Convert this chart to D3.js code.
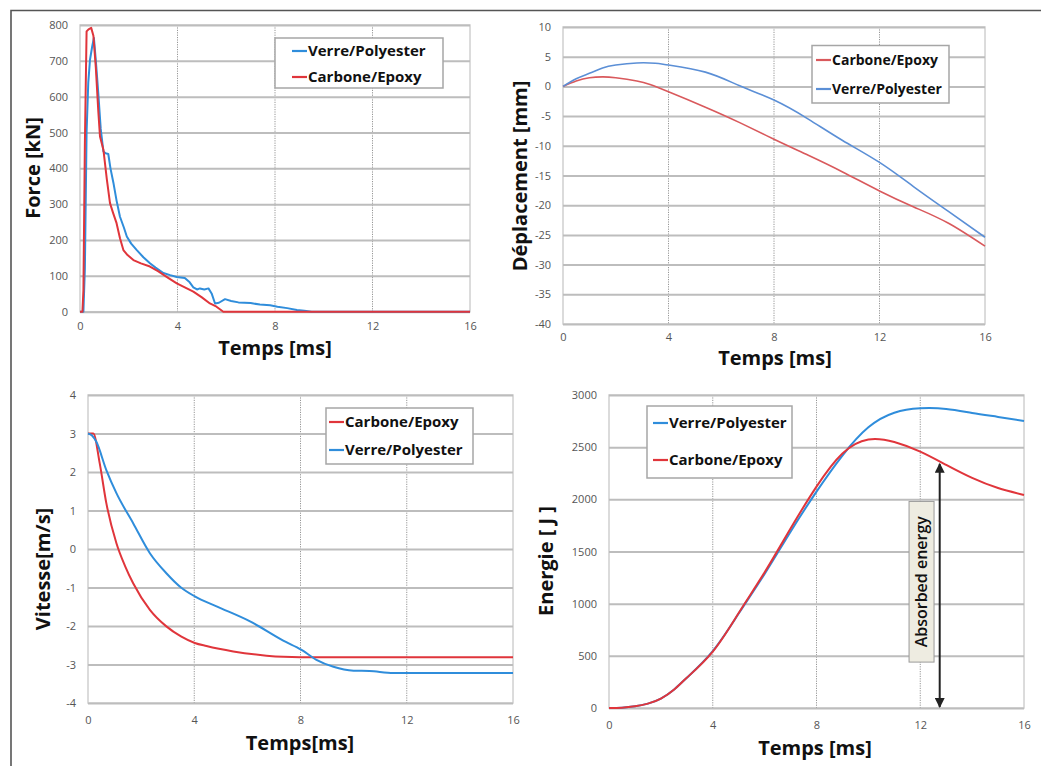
<!DOCTYPE html>
<html><head><meta charset="utf-8">
<script src="https://cdn.jsdelivr.net/npm/d3@7"></script>
<style>
body{margin:0;background:#fff;}
svg{display:block;font-family:"Open Sans",sans-serif;}
</style></head><body>
<svg id="c" width="1041" height="766"></svg>
<script>
// ---- data ----
const xTicks = [0, 4, 8, 12, 16];
const seriesNames = ["Verre/Polyester", "Carbone/Epoxy"];

const forceTicks = [0,100,200,300,400,500,600,700,800];
const forceVerre = [[0,0],[0.14,0],[0.2,120],[0.27,500],[0.34,640],[0.41,703],[0.5,740],[0.57,764],[0.65,700],[0.75,610],[0.85,510],[0.96,447],[1.05,442],[1.16,440],[1.25,400],[1.37,360],[1.5,310],[1.64,265],[1.8,235],[1.92,210],[2.1,190],[2.33,172],[2.6,152],[2.87,135],[3.1,123],[3.42,108],[3.7,102],[3.97,97],[4.3,94],[4.5,82],[4.65,68],[4.8,62],[4.92,65],[5.1,62],[5.27,65],[5.4,51],[5.54,23],[5.7,25],[5.95,35],[6.2,30],[6.5,26],[7.0,24],[7.38,20],[7.8,18],[8.1,14],[8.5,10],[8.9,5],[9.2,3],[9.5,0],[16,0]];
const forceCarbone = [[0,0],[0.1,0],[0.14,60],[0.2,470],[0.27,782],[0.35,788],[0.46,792],[0.55,770],[0.65,680],[0.75,560],[0.82,489],[0.96,452],[1.1,370],[1.23,303],[1.36,275],[1.5,247],[1.64,205],[1.78,172],[1.95,158],[2.19,144],[2.5,135],[2.87,126],[3.2,113],[3.6,95],[3.97,79],[4.3,68],[4.65,56],[5.0,40],[5.33,23],[5.6,14],[5.88,0],[16,0]];

const deplTicks = [-40,-35,-30,-25,-20,-15,-10,-5,0,5,10];
const deplCarbone = [[0,0],[0.5,0.9],[1.0,1.45],[1.5,1.6],[2.0,1.45],[2.8,0.9],[3.3,0.3],[4.0,-0.9],[5.4,-3.5],[6.7,-6.1],[8.0,-8.9],[9.3,-11.6],[10.6,-14.4],[12.0,-17.6],[13.3,-20.3],[14.6,-23.0],[16.0,-26.9]];
const deplVerre = [[0,0],[0.5,1.3],[1.0,2.2],[1.5,3.1],[2.0,3.6],[2.8,3.95],[3.5,3.9],[4.0,3.6],[5.4,2.4],[6.7,0.1],[8.0,-2.3],[9.3,-5.5],[10.6,-9.1],[12.0,-12.8],[13.3,-16.9],[14.6,-21.0],[16.0,-25.4]];

const vitTicks = [-4,-3,-2,-1,0,1,2,3,4];
const vitCarbone = [[0,3.0],[0.2,3.0],[0.44,2.23],[0.69,1.19],[1.07,0.15],[1.4,-0.45],[1.7,-0.89],[2.33,-1.58],[2.95,-2.01],[3.5,-2.27],[4.02,-2.44],[4.46,-2.52],[5.47,-2.66],[6.72,-2.77],[7.35,-2.8],[8.0,-2.81],[16,-2.81]];
const vitVerre = [[0,3.0],[0.15,2.95],[0.31,2.79],[0.69,2.05],[1.07,1.45],[1.7,0.67],[2.33,-0.11],[2.95,-0.63],[3.5,-1.0],[4.02,-1.23],[4.84,-1.49],[6.1,-1.88],[7.35,-2.38],[8.04,-2.62],[8.6,-2.88],[9.24,-3.06],[10.0,-3.16],[10.6,-3.17],[11.5,-3.22],[16,-3.22]];

const enerTicks = [0,500,1000,1500,2000,2500,3000];
const enerVerre = [[0,0],[0.5,3],[1,16],[1.5,42],[2,90],[2.5,175],[3,290],[4,545],[5,905],[6,1285],[7,1690],[8,2074],[9,2420],[10,2690],[11,2830],[12,2872],[13,2866],[14,2828],[15,2790],[16,2751]];
const enerCarbone = [[0,0],[0.5,3],[1,16],[1.5,42],[2,90],[2.5,175],[3,290],[4,540],[5,910],[6,1300],[7,1720],[8,2122],[9,2440],[10,2574],[11,2550],[12,2457],[13,2330],[14,2205],[15,2108],[16,2042]];

const annotationText = "Absorbed energy";

// ---- drawing ----
const svg = d3.select("#c");
const BLUE = "#2f8ddb", RED = "#e0353b";

svg.append("path").attr("d","M11,766 L11,10.5 L1041,10.5").attr("fill","none").attr("stroke","#555").attr("stroke-width",1.6);

function panel(o){
  const x = d3.scaleLinear().domain([0,16]).range([o.l,o.r]);
  const y = d3.scaleLinear().domain([o.yTicks[0], o.yTicks[o.yTicks.length-1]]).range([o.b,o.t]);
  const g = svg.append("g");
  g.append("rect").attr("x",o.l).attr("y",o.t).attr("width",o.r-o.l).attr("height",o.b-o.t)
    .attr("fill","none").attr("stroke","#d0d0d0").attr("stroke-width",1.5);
  g.selectAll(".vg").data(xTicks.slice(1,-1)).join("line")
    .attr("x1",d=>x(d)).attr("x2",d=>x(d)).attr("y1",o.t).attr("y2",o.b)
    .attr("stroke","#8a8a8a").attr("stroke-width",0.9).attr("stroke-dasharray","1.2,1.2");
  const ya = d3.axisLeft(y).tickValues(o.yTicks).tickSize(-(o.r-o.l)).tickPadding(12).tickFormat(d=>String(d));
  const yg = g.append("g").attr("transform",`translate(${o.l},0)`).call(ya);
  yg.select(".domain").remove();
  yg.selectAll(".tick line").attr("stroke","#bdbdbd").attr("stroke-width",2);
  yg.selectAll(".tick text").attr("fill","#555").style("font-size","11px").style("font-family","'Open Sans',sans-serif");
  const xa = d3.axisBottom(x).tickValues(xTicks).tickSize(0).tickPadding(o.xpad||12).tickFormat(d=>String(d));
  const xg = g.append("g").attr("transform",`translate(0,${o.b})`).call(xa);
  xg.select(".domain").remove();
  xg.selectAll(".tick text").attr("fill","#555").style("font-size","11px").style("font-family","'Open Sans',sans-serif");
  g.append("text").attr("x",o.xt[0]).attr("y",o.xt[1]).attr("text-anchor","middle")
    .style("font-size","20px").style("font-weight","bold").attr("fill","#111").text(o.xTitle);
  g.append("text").attr("transform",`translate(${o.yt[0]},${o.yt[1]}) rotate(-90)`).attr("text-anchor","middle")
    .attr("dy","0.35em").style("font-size","20px").style("font-weight","bold").attr("fill","#111").text(o.yTitle);
  const line = d3.line().x(d=>x(d[0])).y(d=>y(d[1])).curve(o.curve||d3.curveMonotoneX);
  o.series.forEach(s=>{
    g.append("path").datum(s.data).attr("d",line).attr("fill","none")
      .attr("stroke",s.color).attr("stroke-width",o.lw||2).attr("stroke-linejoin","round");
  });
  const L = o.legend;
  g.append("rect").attr("x",L.x).attr("y",L.y).attr("width",L.w).attr("height",L.h)
    .attr("fill","#fff").attr("stroke","#a6a6a6").attr("stroke-width",1.5);
  L.items.forEach((it,i)=>{
    const yy = L.rows[i];
    g.append("line").attr("x1",L.lx).attr("x2",L.lx+15).attr("y1",yy).attr("y2",yy)
      .attr("stroke",it.color).attr("stroke-width",2.2);
    g.append("text").attr("x",L.lx+16).attr("y",yy).attr("dy","0.35em")
      .style("font-size",(L.fs||15)+"px").style("font-weight","bold").attr("fill","#111").text(it.name);
  });
  return {x,y,g};
}

// Panel 1: Force
panel({l:80,r:470,t:25,b:311.7,yTicks:forceTicks,xTitle:"Temps [ms]",yTitle:"Force [kN]",
  xt:[275,355],yt:[33,168],curve:d3.curveLinear,lw:2,xpad:11,
  series:[{data:forceVerre,color:BLUE},{data:forceCarbone,color:RED}],
  legend:{x:275,y:38,w:168,h:50,lx:292,rows:[51,77],items:[{name:seriesNames[0],color:BLUE},{name:seriesNames[1],color:RED}]}});

// Panel 2: Déplacement
panel({l:563,r:985,t:27,b:324,yTicks:deplTicks,xTitle:"Temps [ms]",yTitle:"Déplacement [mm]",
  xt:[775,365],yt:[520,176],lw:1.6,xpad:9,curve:d3.curveNatural,
  series:[{data:deplCarbone,color:"#d9595c"},{data:deplVerre,color:"#5b8fd6"}],
  legend:{x:812,y:45.5,w:137,h:57.5,lx:816,rows:[60,89],fs:14,items:[{name:seriesNames[1],color:"#d9595c"},{name:seriesNames[0],color:"#5b8fd6"}]}});

// Panel 3: Vitesse
panel({l:88,r:513,t:395,b:703,yTicks:vitTicks,xTitle:"Temps[ms]",yTitle:"Vitesse[m/s]",
  xt:[300,750],yt:[43,569],lw:2,xpad:13,
  series:[{data:vitCarbone,color:RED},{data:vitVerre,color:BLUE}],
  legend:{x:326,y:408,w:147,h:56,lx:329,rows:[422,450],items:[{name:seriesNames[1],color:RED},{name:seriesNames[0],color:BLUE}]}});

// Panel 4: Energie
const p4 = panel({l:609,r:1024,t:395,b:708,yTicks:enerTicks,xTitle:"Temps [ms]",yTitle:"Energie [ J ]",
  xt:[815,755],yt:[546,561],lw:2,xpad:13,curve:d3.curveNatural,
  series:[{data:enerVerre,color:BLUE},{data:enerCarbone,color:RED}],
  legend:{x:647,y:406,w:145,h:72,lx:653,rows:[423,460],items:[{name:seriesNames[0],color:BLUE},{name:seriesNames[1],color:RED}]}});

// annotation in panel 4
const ax = p4.x(12.75);
svg.append("defs").html('<marker id="ah" viewBox="0 0 10 10" refX="9" refY="5" markerWidth="5" markerHeight="5" orient="auto-start-reverse"><path d="M0,0 L10,5 L0,10 z" fill="#222"/></marker>');
svg.append("line").attr("x1",ax).attr("x2",ax).attr("y1",p4.y(2340)).attr("y2",p4.y(10))
  .attr("stroke","#222").attr("stroke-width",2).attr("marker-start","url(#ah)").attr("marker-end","url(#ah)");
const bx = p4.x(12.05), bw = 25;
svg.append("rect").attr("x",bx-bw/2).attr("y",p4.y(1980)).attr("width",bw).attr("height",p4.y(440)-p4.y(1980))
  .attr("fill","#eeece1").attr("stroke","#9a9a9a").attr("stroke-width",1);
svg.append("text").attr("transform",`translate(${bx},${(p4.y(1980)+p4.y(440))/2}) rotate(-90)`)
  .attr("text-anchor","middle").attr("dy","0.35em").style("font-size","16px").style("font-weight","600")
  .attr("fill","#111").text(annotationText);
</script></body></html>
